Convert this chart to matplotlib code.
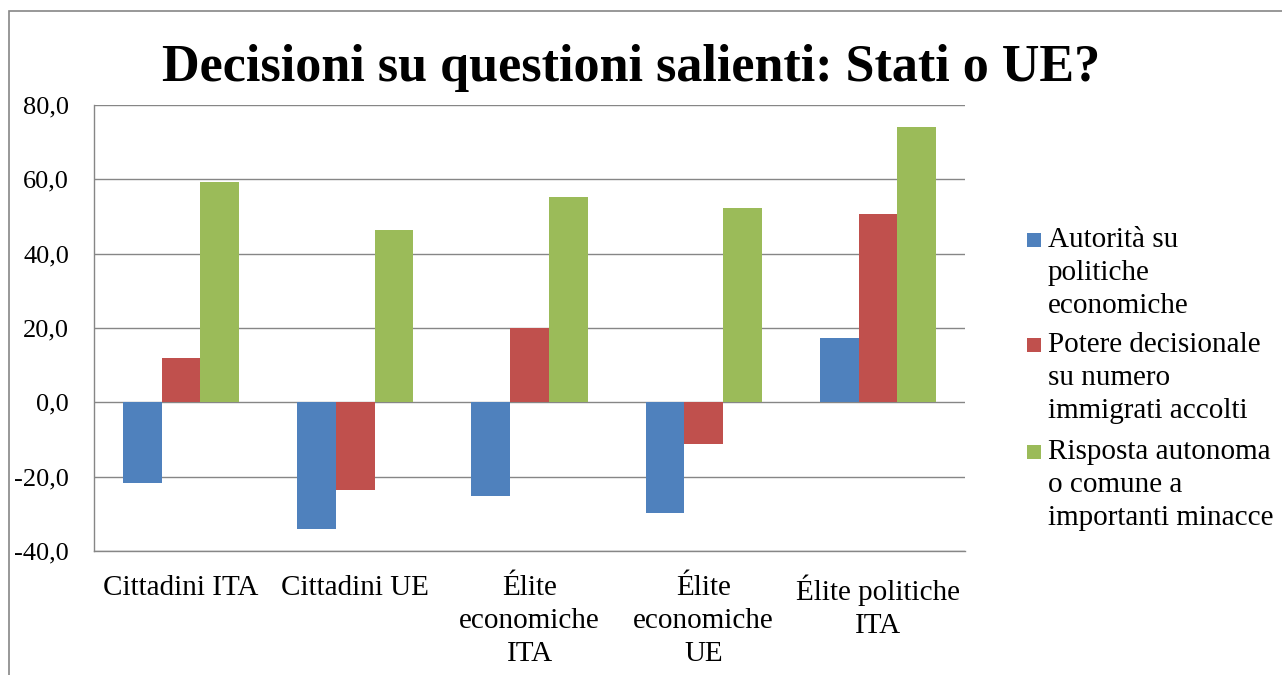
import matplotlib.pyplot as plt
import numpy as np
from matplotlib.patches import Rectangle

plt.rcParams['font.family'] = ['Liberation Serif', 'DejaVu Serif']

categories = ["Cittadini ITA", "Cittadini UE", "Élite\neconomiche\nITA",
              "Élite\neconomiche\nUE", "Élite politiche\nITA"]
series_names = ["Autorità su\npolitiche\neconomiche",
                "Potere decisionale\nsu numero\nimmigrati accolti",
                "Risposta autonoma\no comune a\nimportanti minacce"]
autorita = [-21.8, -34.2, -25.3, -29.9, 17.2]
potere = [11.9, -23.7, 19.9, -11.3, 50.6]
risposta = [59.3, 46.3, 55.2, 52.3, 74.1]
colors = ["#4F81BD", "#C0504D", "#9BBB59"]
yticks = [-40, -20, 0, 20, 40, 60, 80]

W, H = 1282, 675
fig = plt.figure(figsize=(W / 100, H / 100), dpi=100)
ax = fig.add_axes([94 / W, 1 - 551 / H, 871 / W, 446 / H])

# outer chart border (cut off at right and bottom)
fig.patches.append(Rectangle((9 / W, -0.1), 1.2, 1 - 11 / H + 0.1,
                             transform=fig.transFigure, fill=False,
                             edgecolor="#868686", linewidth=1.2))

x = np.arange(len(categories))
w = 2 / 9
for i, vals in enumerate([autorita, potere, risposta]):
    ax.bar(x + (i - 1) * w, vals, width=w, color=colors[i], zorder=3)

ax.set_xlim(-0.5, len(categories) - 0.5)
ax.set_ylim(-40, 80)
ax.set_yticks(yticks)
ax.set_yticklabels([f"{v:.1f}".replace(".", ",") for v in yticks], fontsize=19)
ax.set_xticks(x)
ax.set_xticklabels(categories, fontsize=21, linespacing=1.35)
ax.tick_params(axis="both", length=0)
ax.tick_params(axis="y", pad=18)
ax.tick_params(axis="x", pad=17)

ax.grid(axis="y", color="#868686", linewidth=1.0, zorder=0)
for s in ["top", "right"]:
    ax.spines[s].set_visible(False)
for s in ["left", "bottom"]:
    ax.spines[s].set_color("#868686")
    ax.spines[s].set_linewidth(1.0)

fig.text(631 / W, 1 - 68 / H, "Decisioni su questioni salienti: Stati o UE?",
         ha="center", va="center", fontsize=37.5, fontweight="bold")

# legend drawn by hand so the marker sits on the first text line
first_lines = [240, 345, 452]
for name, c, y0 in zip(series_names, colors, first_lines):
    fig.patches.append(Rectangle((1027 / W, 1 - (y0 + 7) / H), 14 / W, 14 / H,
                                 transform=fig.transFigure, facecolor=c,
                                 edgecolor="none"))
    for k, line in enumerate(name.split("\n")):
        fig.text(1048 / W, 1 - (y0 + 33 * k) / H, line, ha="left",
                 va="center", fontsize=21)

fig.savefig("out.png", dpi=100)
